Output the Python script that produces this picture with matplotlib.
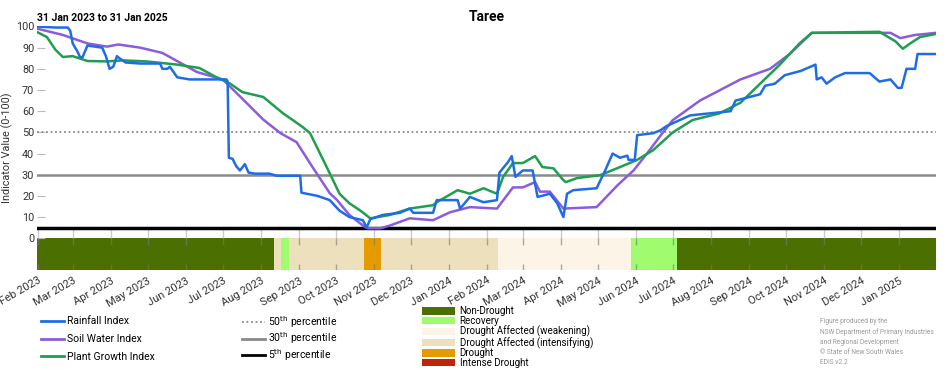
import matplotlib
matplotlib.use("Agg")
import matplotlib.pyplot as plt
import matplotlib.dates as mdates
from matplotlib.lines import Line2D
from matplotlib.patches import Patch
import pandas as pd

plt.rcParams['font.family'] = ['Roboto', 'DejaVu Sans']

start = pd.Timestamp('2023-01-31')
end = pd.Timestamp('2025-01-31')

# days after 31 Jan 2023
rain_days = [0, 15, 25, 27, 29, 33, 35, 37, 41, 47, 53, 56, 59, 62, 65, 67, 72, 84, 100, 102,
             106, 108, 114, 119, 124, 154, 155, 156, 159, 162, 165, 169, 172, 177, 189, 195, 214, 215, 228, 238,
             246, 254, 265, 268, 271, 281, 295, 303, 306, 322, 325, 342, 344, 352, 363, 374, 376, 383, 386, 389,
             395, 403, 407, 417, 423, 428, 431, 436, 455, 462, 468, 474, 480, 481, 486, 488, 501, 507, 512, 531,
             539, 564, 568, 588, 592, 600, 608, 621, 633, 634, 638, 642, 649, 657, 677, 685, 694, 700, 703, 707,
             714, 716, 731]
rain_vals = [100, 99.5, 99.5, 98, 92, 88, 85.5, 85.5, 91, 90.5, 90, 86, 80, 81, 86, 85, 83, 82.5, 82.5, 80,
             80, 81, 76, 75.5, 75, 75, 74, 38, 37.5, 34, 32, 35, 31, 30.5, 30.5, 29.5, 29.5, 21.5, 20, 18,
             13, 10, 8.5, 5, 9, 11, 12, 14, 12, 12, 18, 18, 14, 19.5, 17, 18, 31, 36, 38.8, 29,
             32, 32, 19.5, 21, 16.5, 10, 21, 22.7, 23.6, 32, 40, 38, 39, 37, 37, 48.7, 49.6, 51, 53, 58,
             58.5, 60, 65, 68, 72, 73, 77, 79, 82, 75, 76, 73, 76, 78, 78, 74, 75, 71, 71, 80,
             80, 87, 87]

soil_days = [0, 21, 41, 57, 66, 84, 102, 116, 130, 151, 165, 184, 198, 211, 224, 238, 244, 254, 265, 269,
             279, 287, 303, 322, 336, 352, 374, 387, 395, 405, 409, 417, 428, 455, 472, 485, 496, 509, 517, 539,
             572, 596, 612, 630, 694, 702, 714, 731]
soil_vals = [99, 96, 92, 90.5, 91.5, 90, 87.5, 83, 78.5, 75, 67, 56, 49.6, 45.4, 33.6, 21.3, 18, 11, 6, 4.7,
             4.7, 6, 9.4, 8.5, 12.3, 14.7, 14, 24, 24, 26.5, 22, 22, 14, 14.7, 25, 32, 40, 50, 55.8, 65,
             75, 80, 87, 97, 97, 94.5, 96, 97]

plant_days = [0, 8, 15, 21, 29, 41, 57, 70, 89, 114, 132, 146, 157, 167, 184, 200, 208, 216, 222, 238,
              246, 254, 263, 271, 287, 303, 322, 325, 342, 352, 363, 374, 379, 387, 395, 405, 411, 420, 428, 430,
              439, 458, 474, 488, 501, 517, 533, 555, 572, 588, 604, 620, 630, 685, 698, 704, 710, 718, 731]
plant_vals = [97.4, 95, 89, 85.6, 86, 83.7, 83.5, 84, 83.5, 82, 80.4, 76, 73, 69, 66.7, 59, 55.8, 52.5, 49.6, 30.7,
              21, 16.5, 13, 9.4, 11, 14, 15.6, 17, 22.7, 21, 23.6, 21, 29, 35.5, 35.5, 38.8, 33.6, 33, 27.4, 26.5,
              28.4, 29.8, 33.6, 37, 41.6, 50, 55.8, 59, 64, 73, 82, 92, 97, 97.5, 93, 89.5, 92, 95, 96.5]

# drought category bands
band_start = [0, 193, 198, 205, 266, 280, 375, 483, 520]
band_end = [193, 198, 205, 266, 280, 375, 483, 520, 731]
band_cat = ['Non-Drought', 'Drought Affected (intensifying)', 'Recovery', 'Drought Affected (intensifying)',
            'Drought', 'Drought Affected (intensifying)', 'Drought Affected (weakening)', 'Recovery', 'Non-Drought']

categories = ['Non-Drought', 'Recovery', 'Drought Affected (weakening)', 'Drought Affected (intensifying)',
              'Drought', 'Intense Drought']
cat_colors = ['#4b6f00', '#a0fb6e', '#fdf4e8', '#ede0bc', '#e39b00', '#c02408']

percentiles = [50, 30, 5]

def to_dates(days):
    return start + pd.to_timedelta(days, unit='D')

fig = plt.figure(figsize=(9.52, 3.7), dpi=100)
ax = fig.add_axes([0.0389, 0.2703, 0.9443, 0.6581])

c_rain, c_soil, c_plant = '#1f6de6', '#8b5cdc', '#1f9e4f'

col = dict(zip(categories, cat_colors))
ymin = -15
for s, e, c in zip(band_start, band_end, band_cat):
    ax.axvspan(to_dates(s), to_dates(e), ymin=0, ymax=(0 - ymin) / (100 - ymin),
               color=col[c], lw=0, zorder=1)

months = pd.date_range('2023-02-01', '2025-01-01', freq='MS')
ax.vlines(months, 0, 5, color='#cccccc', lw=1, zorder=1)
ax.vlines(months, -15, -12, color='#777777', lw=1, alpha=0.6, zorder=2)
ax.vlines(months, -3, 0, color='#777777', lw=1, alpha=0.6, zorder=2)

ax.axhline(percentiles[0], color='#8a8a8a', lw=1.3, ls=(0, (1, 1.5)), zorder=2)
ax.axhline(percentiles[1], color='#8a8a8a', lw=1.8, zorder=2)
ax.axhline(percentiles[2], color='black', lw=2.5, zorder=2)

ax.plot(to_dates(soil_days), soil_vals, color=c_soil, lw=1.8, zorder=4)
ax.plot(to_dates(plant_days), plant_vals, color=c_plant, lw=1.8, zorder=4)
ax.plot(to_dates(rain_days), rain_vals, color=c_rain, lw=1.8, zorder=5)

ax.set_xlim(start, end)
ax.set_ylim(ymin, 100)
ax.set_yticks(range(0, 101, 10))
ax.tick_params(axis='y', direction='in', length=6, color='#bbbbbb', labelsize=7.8,
               labelcolor='#333333', pad=2)
ax.set_xticks(months)
ax.xaxis.set_major_formatter(mdates.DateFormatter('%b %Y'))
ax.tick_params(axis='x', length=0, labelsize=8, labelcolor='#333333', pad=4)
plt.setp(ax.get_xticklabels(), rotation=30, ha='right', rotation_mode='anchor')
for sp in ax.spines.values():
    sp.set_visible(False)
ax.set_ylabel('Indicator Value (0-100)', fontsize=7.8, color='#333333', labelpad=2)

ax.set_title('Taree', fontsize=10, fontweight='bold', pad=4)
fig.text(0.039, 0.942, '31 Jan 2023 to 31 Jan 2025', fontsize=7.5, fontweight='bold')

h1 = [Line2D([], [], color=c_rain, lw=2), Line2D([], [], color=c_soil, lw=2),
      Line2D([], [], color=c_plant, lw=2)]
fig.legend(h1, ['Rainfall Index', 'Soil Water Index', 'Plant Growth Index'],
           loc='upper left', bbox_to_anchor=(0.033, 0.17), frameon=False, fontsize=7.5,
           handlelength=2.2, handletextpad=0.3, labelspacing=0.75)

h2 = [Line2D([], [], color='#8a8a8a', lw=1.3, ls=(0, (1, 1.5))),
      Line2D([], [], color='#8a8a8a', lw=2), Line2D([], [], color='black', lw=2)]
fig.legend(h2, ['%d$^{\\mathrm{th}}$ percentile' % p for p in percentiles],
           loc='upper left', bbox_to_anchor=(0.254, 0.152), frameon=False, fontsize=7.5,
           handlelength=2.2, handletextpad=0.3, labelspacing=0.08, borderpad=0, borderaxespad=0)

h3 = [Patch(facecolor=c, edgecolor='none') for c in cat_colors]
fig.legend(h3, categories, loc='upper left', bbox_to_anchor=(0.443, 0.172), frameon=False,
           fontsize=7, handlelength=3.4, handleheight=0.8, handletextpad=0.5, labelspacing=-0.03,
           borderpad=0, borderaxespad=0)

fig.text(0.861, 0.076, 'Figure produced by the\nNSW Department of Primary Industries\n'
         'and Regional Development\n\u00a9 State of New South Wales\nEDIS v2.2',
         fontsize=4.8, color='#999999', va='center', linespacing=1.6)

fig.savefig('out.png', dpi=100)
